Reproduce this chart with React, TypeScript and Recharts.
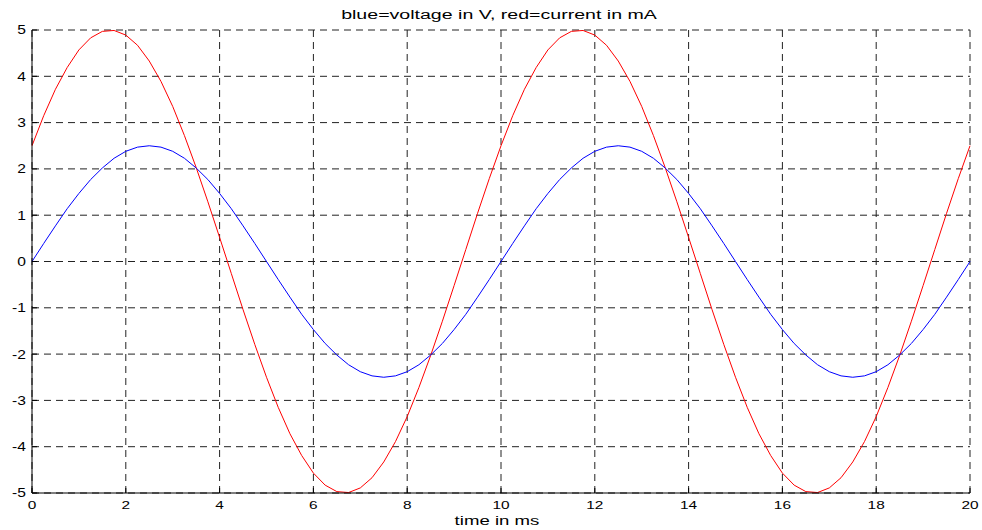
import { LineChart, Line, XAxis, YAxis, CartesianGrid } from 'recharts'

// time in ms, sampled every 0.25 ms
const time = [
  0, 0.25, 0.5, 0.75, 1, 1.25, 1.5, 1.75, 2, 2.25, 2.5, 2.75, 3, 3.25, 3.5, 3.75, 4, 4.25, 4.5, 4.75,
  5, 5.25, 5.5, 5.75, 6, 6.25, 6.5, 6.75, 7, 7.25, 7.5, 7.75, 8, 8.25, 8.5, 8.75, 9, 9.25, 9.5, 9.75,
  10, 10.25, 10.5, 10.75, 11, 11.25, 11.5, 11.75, 12, 12.25, 12.5, 12.75, 13, 13.25, 13.5, 13.75, 14, 14.25, 14.5, 14.75,
  15, 15.25, 15.5, 15.75, 16, 16.25, 16.5, 16.75, 17, 17.25, 17.5, 17.75, 18, 18.25, 18.5, 18.75, 19, 19.25, 19.5, 19.75,
  20,
]

// blue: voltage in V
const voltage = [
  0, 0.39, 0.77, 1.14, 1.47, 1.77, 2.02, 2.23, 2.38, 2.47, 2.5, 2.47, 2.38, 2.23, 2.02, 1.77, 1.47, 1.14, 0.77, 0.39,
  0, -0.39, -0.77, -1.14, -1.47, -1.77, -2.02, -2.23, -2.38, -2.47, -2.5, -2.47, -2.38, -2.23, -2.02, -1.77, -1.47, -1.14, -0.77, -0.39,
  0, 0.39, 0.77, 1.14, 1.47, 1.77, 2.02, 2.23, 2.38, 2.47, 2.5, 2.47, 2.38, 2.23, 2.02, 1.77, 1.47, 1.14, 0.77, 0.39,
  0, -0.39, -0.77, -1.14, -1.47, -1.77, -2.02, -2.23, -2.38, -2.47, -2.5, -2.47, -2.38, -2.23, -2.02, -1.77, -1.47, -1.14, -0.77, -0.39,
  0,
]

// red: current in mA
const current = [
  2.5, 3.15, 3.72, 4.19, 4.57, 4.83, 4.97, 4.99, 4.89, 4.67, 4.33, 3.89, 3.35, 2.72, 2.03, 1.29, 0.52, -0.26, -1.04, -1.79,
  -2.5, -3.15, -3.72, -4.19, -4.57, -4.83, -4.97, -4.99, -4.89, -4.67, -4.33, -3.89, -3.35, -2.72, -2.03, -1.29, -0.52, 0.26, 1.04, 1.79,
  2.5, 3.15, 3.72, 4.19, 4.57, 4.83, 4.97, 4.99, 4.89, 4.67, 4.33, 3.89, 3.35, 2.72, 2.03, 1.29, 0.52, -0.26, -1.04, -1.79,
  -2.5, -3.15, -3.72, -4.19, -4.57, -4.83, -4.97, -4.99, -4.89, -4.67, -4.33, -3.89, -3.35, -2.72, -2.03, -1.29, -0.52, 0.26, 1.04, 1.79,
  2.5,
]

const xTicks = [0, 2, 4, 6, 8, 10, 12, 14, 16, 18, 20]
const yTicks = [-5, -4, -3, -2, -1, 0, 1, 2, 3, 4, 5]

const title = 'blue=voltage in V, red=current in mA'
const xLabel = 'time in ms'

const data = time.map((t, i) => ({ t, v: voltage[i], c: current[i] }))

const FONT = '"Liberation Sans", Arial, sans-serif'

// MATLAB-ish stretched text
function XTick(props: any) {
  const { x, payload } = props
  return (
    <text
      x={x}
      y={509}
      textAnchor="middle"
      fontSize={11}
      fontFamily={FONT}
      fill="#000"
      transform={`translate(${x},0) scale(1.4,1) translate(${-x},0)`}
    >
      {payload.value}
    </text>
  )
}

function YTick(props: any) {
  const { y, payload } = props
  return (
    <text
      x={26}
      y={y + 4.5}
      textAnchor="end"
      fontSize={12}
      fontFamily={FONT}
      fill="#000"
      transform="translate(26,0) scale(1.3,1) translate(-26,0)"
    >
      {payload.value}
    </text>
  )
}

const NoTick = () => <g />

export default function App() {
  return (
    <div style={{ position: 'relative', width: 982, height: 530, background: '#fff' }}>
      <style>{'body{margin:0}'}</style>
      <LineChart width={982} height={530} data={data} margin={{ top: 30, right: 12, bottom: 0, left: 0 }}>
        <CartesianGrid stroke="#222" strokeDasharray="7 5" />
        <XAxis
          dataKey="t"
          type="number"
          domain={[0, 20]}
          ticks={xTicks}
          height={37}
          stroke="#000"
          tickSize={-5}
          tick={XTick}
          interval={0}
        />
        <XAxis
          xAxisId="top"
          dataKey="t"
          type="number"
          orientation="top"
          domain={[0, 20]}
          ticks={xTicks}
          height={0}
          stroke="#000"
          mirror
          tickSize={5}
          tick={NoTick}
          interval={0}
        />
        <YAxis
          type="number"
          domain={[-5, 5]}
          ticks={yTicks}
          width={32}
          stroke="#000"
          tickSize={-5}
          tick={YTick}
          interval={0}
        />
        <YAxis
          yAxisId="right"
          type="number"
          orientation="right"
          domain={[-5, 5]}
          ticks={yTicks}
          width={0}
          stroke="#000"
          mirror
          tickSize={5}
          tick={NoTick}
          interval={0}
        />
        <Line type="linear" dataKey="c" stroke="#ff0000" strokeWidth={1} dot={false} isAnimationActive={false} />
        <Line type="linear" dataKey="v" stroke="#0000ff" strokeWidth={1} dot={false} isAnimationActive={false} />
      </LineChart>
      <div
        style={{
          position: 'absolute',
          left: 0,
          width: 998,
          top: 9,
          textAlign: 'center',
          fontFamily: FONT,
          fontSize: 12,
          lineHeight: '12px',
          transform: 'scaleX(1.63)',
          transformOrigin: '499px 0',
          whiteSpace: 'nowrap',
        }}
      >
        {title}
      </div>
      <div
        style={{
          position: 'absolute',
          left: 0,
          width: 994,
          top: 515,
          textAlign: 'center',
          fontFamily: FONT,
          fontSize: 12,
          lineHeight: '12px',
          transform: 'scaleX(1.55)',
          transformOrigin: '497px 0',
          whiteSpace: 'nowrap',
        }}
      >
        {xLabel}
      </div>
    </div>
  )
}
